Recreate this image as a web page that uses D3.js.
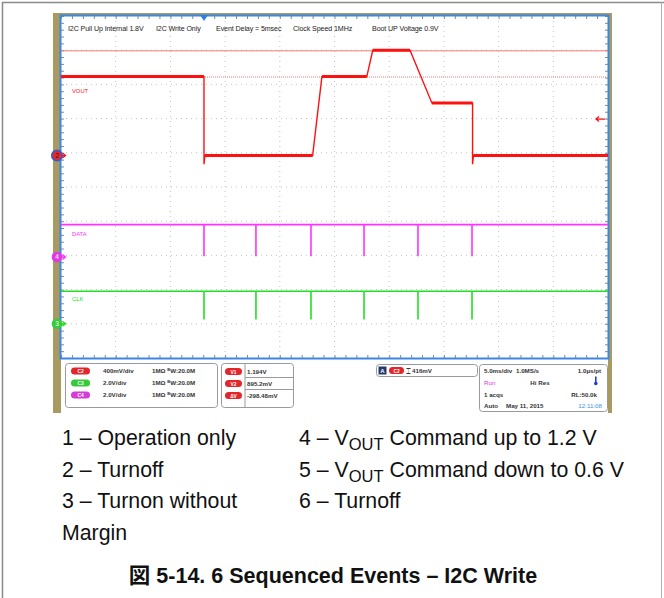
<!DOCTYPE html>
<html lang="ja">
<head>
<meta charset="utf-8">
<title>6 Sequenced Events – I2C Write</title>
<script src="https://cdn.jsdelivr.net/npm/d3@7"></script>
<style>
  body { margin: 0; background: #fff; }
  svg { display: block; font-family: "Liberation Sans", Arial, "Noto Sans CJK JP", sans-serif; }
  .scope text { font-family: "Liberation Sans", Arial, sans-serif; }
</style>
</head>
<body>
<div id="vis"></div>
<script>
// ---- data ----
// horizontal: 10 div x 5 ms/div
var timeDomain = [0, 50];
// VOUT (C2), time in ms, volts
var voutTime = [0, 13.07, 13.07, 13.15, 23.0, 23.85, 27.95, 28.5, 31.9, 33.9, 37.62, 37.62, 37.7, 50];
var voutVolt = [0.9, 0.9, -0.1, 0.0, 0.0, 0.9, 0.9, 1.2, 1.2, 0.6, 0.6, -0.1, 0.0, 0.0];
// I2C transactions seen on DATA (C4) and CLK (C3)
var pulseTime = [13.07, 17.82, 22.85, 27.7, 32.63, 37.57];
var dataLevels = [1.9, 0.05];   // idle high, lowest point of the glitch
var clkLevels = [1.9, 0.25];
// cursors and trigger
var cursorVolts = [1.194, 0.8952];
var triggerTime = 13.07;
var triggerLevel = 0.416;

var notes = ["I2C Pull Up Internal 1.8V", "I2C Write Only", "Event Delay = 5msec", "Clock Speed 1MHz", "Boot UP Voltage 0.9V"];
var chLabels = ["VOUT", "DATA", "CLK"];
var chNumbers = ["2", "4", "3"];
var panelChannels = ["C2", "C3", "C4"];
var panelScales = ["400mV/div", "2.0V/div", "2.0V/div"];
var cursorLabels = ["V1", "V2", "ΔV"];
var cursorReadout = ["1.194V", "895.2mV", "-298.48mV"];

var legendLeft = [["1 – Operation only"], ["2 – Turnoff"], ["3 – Turnon without"], ["Margin"]];
var legendRight = [["4 – V", "OUT", " Command up to 1.2 V"], ["5 – V", "OUT", " Command down to 0.6 V"], ["6 – Turnoff"]];
var caption = "図 5-14. 6 Sequenced Events – I2C Write";

// ---- setup ----
var W = 664, H = 598;
var L = 61, R = 608, T = 16, B = 358;
var chColors = ["#ff1010", "#ff33ff", "#22e022"];
var markerColors = ["#e8262b", "#e03ae0", "#34cc38"];
var panelColors = ["#e3262b", "#36c93a", "#d63bd6"];
var chOffsetDiv = [4.08, 7.05, 9.0];
var chVdiv = [0.39, 2.0, 2.0];

var svg = d3.select("#vis").append("svg").attr("width", W).attr("height", H);

// page frame
svg.append("path").attr("d", "M2.5,598V2.5H664").attr("fill", "none").attr("stroke", "#8a8a8a").attr("stroke-width", 1.5);
svg.append("line").attr("x1", 661.5).attr("x2", 661.5).attr("y1", 2).attr("y2", 598).attr("stroke", "#b0b0b0");

var scope = svg.append("g").attr("class", "scope");
scope.append("rect").attr("x", 53).attr("y", 13).attr("width", 559).attr("height", 400).attr("fill", "#a99a62");
scope.append("rect").attr("x", L).attr("y", T).attr("width", R - L).attr("height", 397).attr("fill", "#fff");

var x = d3.scaleLinear().domain(timeDomain).range([L, R]);
var yDiv = d3.scaleLinear().domain([0, 10]).range([T, B]);
function chScale(i) {
  return d3.scaleLinear().domain([0, chVdiv[i]]).range([yDiv(chOffsetDiv[i]), yDiv(chOffsetDiv[i] - 1)]);
}
var yV = chScale(0), yD = chScale(1), yC = chScale(2);

// dotted graticule
var g = scope.append("g");
d3.range(1, 10).forEach(function(i) {
  g.append("line").attr("x1", x(i * 5)).attr("x2", x(i * 5)).attr("y1", T).attr("y2", B)
    .attr("stroke", "#c4c4c4").attr("stroke-dasharray", "1,4");
  g.append("line").attr("x1", L).attr("x2", R).attr("y1", yDiv(i)).attr("y2", yDiv(i))
    .attr("stroke", "#c4c4c4").attr("stroke-dasharray", "1,4");
});

// edge ticks via axes
var minorT = d3.range(0, 50.001, 1);
var minorD = d3.range(0, 10.001, 0.2);
function tickStyle(a) {
  a.select(".domain").remove();
  a.selectAll("line").attr("stroke", "#7a8aa0");
  a.selectAll("text").remove();
}
scope.append("g").attr("transform", "translate(0," + T + ")")
  .call(d3.axisBottom(x).tickValues(minorT).tickSize(3)).call(tickStyle);
scope.append("g").attr("transform", "translate(0," + B + ")")
  .call(d3.axisTop(x).tickValues(minorT).tickSize(3)).call(tickStyle);
scope.append("g").attr("transform", "translate(" + L + ",0)")
  .call(d3.axisRight(yDiv).tickValues(minorD).tickSize(3)).call(tickStyle);
scope.append("g").attr("transform", "translate(" + R + ",0)")
  .call(d3.axisLeft(yDiv).tickValues(minorD).tickSize(3)).call(tickStyle);

// blue screen border
scope.append("rect").attr("x", L - 0.5).attr("y", T - 0.5).attr("width", R - L + 1).attr("height", B - T + 1)
  .attr("fill", "none").attr("stroke", "#3d86e6").attr("stroke-width", 2);

// cursors
scope.append("line").attr("x1", L).attr("x2", R).attr("y1", yV(cursorVolts[0])).attr("y2", yV(cursorVolts[0]))
  .attr("stroke", "#f47a7a").attr("stroke-width", 1);
scope.append("line").attr("x1", L).attr("x2", R).attr("y1", yV(cursorVolts[1])).attr("y2", yV(cursorVolts[1]))
  .attr("stroke", "#f47a7a").attr("stroke-width", 1).attr("stroke-dasharray", "1,1");

// traces
var line = d3.line();
var vout = d3.zip(voutTime, voutVolt).map(function(d) { return [x(d[0]), yV(d[1])]; });
scope.append("path").attr("d", line(vout))
  .attr("fill", "none").attr("stroke", chColors[0]).attr("stroke-width", 1.4);
// the settled parts of VOUT are noisy, so they show up thicker
for (var k = 1; k < vout.length; k++) {
  if (voutVolt[k] == voutVolt[k - 1] && voutTime[k] > voutTime[k - 1]) {
    scope.append("path").attr("d", line([vout[k - 1], vout[k]]))
      .attr("stroke", chColors[0]).attr("stroke-width", 3);
  }
}

function pulses(levels) {
  var pts = [[timeDomain[0], levels[0]]];
  pulseTime.forEach(function(t) { pts.push([t, levels[0]], [t, levels[1]], [t, levels[0]]); });
  pts.push([timeDomain[1], levels[0]]);
  return pts;
}
scope.append("path").attr("d", line(pulses(dataLevels).map(function(d) { return [x(d[0]), yD(d[1])]; })))
  .attr("fill", "none").attr("stroke", chColors[1]).attr("stroke-width", 1.6);
scope.append("path").attr("d", line(pulses(clkLevels).map(function(d) { return [x(d[0]), yC(d[1])]; })))
  .attr("fill", "none").attr("stroke", chColors[2]).attr("stroke-width", 1.6);

// channel labels
var labY = [yV(0.9) + 16, yD(dataLevels[0]) + 11, yC(clkLevels[0]) + 10];
chLabels.forEach(function(s, i) {
  scope.append("text").attr("x", 72).attr("y", labY[i]).attr("font-size", 5.8)
    .attr("fill", chColors[i]).text(s);
});

// ground markers
[yV, yD, yC].forEach(function(s, i) {
  var m = scope.append("g").attr("transform", "translate(57," + s(0) + ")");
  m.append("path").attr("d", "M3,0H8M5.5,-2.5L8.5,0L5.5,2.5").attr("stroke", chColors[i]).attr("fill", "none").attr("stroke-width", 1.3);
  m.append("circle").attr("r", 5.3).attr("fill", markerColors[i])
    .attr("stroke", i == 0 ? "#2a5fd8" : "none").attr("stroke-width", 1.5);
  m.append("text").attr("y", 2.3).attr("text-anchor", "middle").attr("font-size", 6.5)
    .attr("fill", i == 0 ? "#222" : "#fff").text(chNumbers[i]);
});

// trigger position and level
scope.append("path").attr("d", "M" + (x(triggerTime) - 4) + "," + (T - 1) + "h8l-4,6z").attr("fill", "#2d7fe0");
var ty = yV(triggerLevel);
scope.append("path").attr("d", "M" + (R - 3) + "," + ty + "H" + (R - 12) + "M" + (R - 9) + "," + (ty - 2.5) + "L" + (R - 12) + "," + ty + "L" + (R - 9) + "," + (ty + 2.5))
  .attr("stroke", chColors[0]).attr("fill", "none").attr("stroke-width", 1.3);

// notes across the top
var noteX = [68, 156, 216, 293, 372];
notes.forEach(function(s, i) {
  scope.append("text").attr("x", noteX[i]).attr("y", 31).attr("font-size", 7.1)
    .attr("letter-spacing", -0.1).attr("fill", "#222").text(s);
});

// ---- readout panel ----
var panel = scope.append("g").attr("font-size", 6.2).attr("font-weight", "bold").attr("fill", "#333");
function box(x0, y0, w, h) {
  panel.append("rect").attr("x", x0 + 0.5).attr("y", y0 + 0.5).attr("width", w).attr("height", h).attr("rx", 3)
    .attr("fill", "#fff").attr("stroke", "#9a9a9a");
}
function pill(x0, cy, w, color, label) {
  panel.append("rect").attr("x", x0).attr("y", cy - 3.5).attr("width", w).attr("height", 7).attr("rx", 3.5).attr("fill", color);
  panel.append("text").attr("x", x0 + w / 2).attr("y", cy + 2).attr("text-anchor", "middle")
    .attr("font-size", 4.8).attr("fill", "#fff").text(label);
}
var rowY = [371, 383, 395];
box(65, 363, 152, 44);
panelScales.forEach(function(s, i) {
  pill(71, rowY[i], 19, panelColors[i], panelChannels[i]);
  panel.append("text").attr("x", 103).attr("y", rowY[i] + 2.2).text(s);
  var t = panel.append("text").attr("x", 152).attr("y", rowY[i] + 2.2);
  t.append("tspan").text("1MΩ ");
  t.append("tspan").attr("font-size", 4).attr("dy", -2).text("B");
  t.append("tspan").attr("dy", 2).text("W:20.0M");
});
box(221, 363, 72, 44);
panel.append("line").attr("x1", 245).attr("x2", 245).attr("y1", 364).attr("y2", 407).attr("stroke", "#9a9a9a");
cursorLabels.forEach(function(s, i) {
  pill(225, rowY[i] + 0.5, 17, panelColors[0], s);
  panel.append("text").attr("x", 247).attr("y", rowY[i] + 2.7).text(cursorReadout[i]);
  if (i < 2) panel.append("line").attr("x1", 245).attr("x2", 293).attr("y1", rowY[i] + 6.5).attr("y2", rowY[i] + 6.5).attr("stroke", "#9a9a9a");
});
box(376, 364, 101, 12);
panel.append("rect").attr("x", 378.5).attr("y", 366.5).attr("width", 8).attr("height", 8).attr("fill", "#253a6a");
panel.append("text").attr("x", 382.5).attr("y", 373).attr("text-anchor", "middle").attr("fill", "#fff").attr("font-size", 6).text("A");
pill(389, 370.5, 15, panelColors[0], "C2");
panel.append("text").attr("x", 406).attr("y", 373.5).attr("font-size", 8).attr("font-weight", "normal").text("⌶");
panel.append("text").attr("x", 412).attr("y", 373).text(d3.format(".0f")(triggerLevel * 1000) + "mV");

box(479, 364, 128, 47);
var r4 = [372.5, 384.5, 396.5, 408];
panel.append("text").attr("x", 484).attr("y", r4[0]).text("5.0ms/div");
panel.append("text").attr("x", 516).attr("y", r4[0]).text("1.0MS/s");
panel.append("text").attr("x", 601).attr("y", r4[0]).attr("text-anchor", "end").text("1.0µs/pt");
panel.append("text").attr("x", 484).attr("y", r4[1]).attr("fill", "#e033e0").attr("font-weight", "normal").text("Run");
panel.append("text").attr("x", 540).attr("y", r4[1]).attr("text-anchor", "middle").text("Hi Res");
panel.append("rect").attr("x", 595).attr("y", r4[1] - 8).attr("width", 1.6).attr("height", 7).attr("fill", "#1f3fd0");
panel.append("circle").attr("cx", 595.8).attr("cy", r4[1] - 1).attr("r", 1.8).attr("fill", "#1f3fd0");
panel.append("text").attr("x", 484).attr("y", r4[2]).text("1 acqs");
panel.append("text").attr("x", 597).attr("y", r4[2]).attr("text-anchor", "end").text("RL:50.0k");
panel.append("text").attr("x", 484).attr("y", r4[3]).text("Auto");
panel.append("text").attr("x", 506).attr("y", r4[3]).text("May 11, 2015");
panel.append("text").attr("x", 602).attr("y", r4[3]).attr("text-anchor", "end").attr("fill", "#3a8fe8").attr("font-weight", "normal").text("12:11:08");

// ---- legend and caption ----
var leg = svg.append("g").attr("font-size", 21.3).attr("fill", "#111");
var legY = [445, 476.5, 508, 540];
function legLine(parts, x0, y0) {
  var t = leg.append("text").attr("x", x0).attr("y", y0);
  parts.forEach(function(p, j) {
    var s = t.append("tspan").text(p);
    if (j == 1) s.attr("font-size", 16.5).attr("dy", 5);
    if (j == 2) s.attr("dy", -5);
  });
}
legendLeft.forEach(function(p, i) { legLine(p, 62, legY[i]); });
legendRight.forEach(function(p, i) { legLine(p, 299, legY[i]); });

svg.append("text").attr("x", 333).attr("y", 583).attr("text-anchor", "middle")
  .attr("font-size", 21.5).attr("font-weight", "bold").attr("fill", "#111").text(caption);
</script>
</body>
</html>
